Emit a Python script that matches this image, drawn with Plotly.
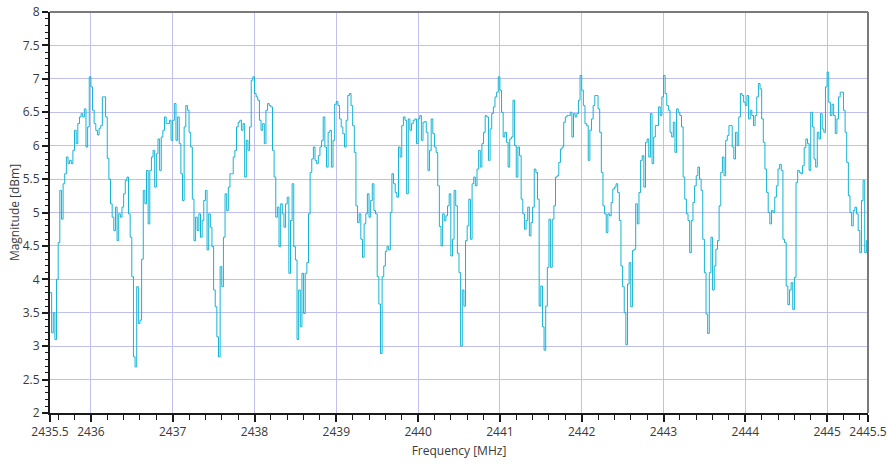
import numpy as np
import plotly.graph_objects as go

# Frequency grid (MHz), 0.02 MHz spacing from 2435.5 to 2445.5
freq_start = 2435.5
freq_step = 0.02

magnitude = [
    3.8, 3.2, 3.5, 3.1, 4.0, 4.55, 5.33, 4.9, 5.43, 5.58,
    5.83, 5.73, 5.78, 5.73, 5.93, 6.23, 6.03, 6.33, 6.43, 6.48,
    6.43, 6.55, 5.98, 6.28, 7.03, 6.88, 6.53, 6.33, 6.23, 6.16,
    6.26, 6.30, 6.73, 6.73, 6.43, 5.81, 5.5, 5.13, 4.93, 4.73,
    5.08, 4.58, 4.98, 4.93, 5.08, 5.28, 5.48, 5.53, 4.98, 4.63,
    4.04, 2.84, 2.69, 3.89, 3.34, 3.39, 4.3, 5.33, 5.13, 5.63,
    4.83, 5.63, 5.83, 5.93, 5.38, 5.88, 6.1, 5.63, 6.13, 6.23,
    6.43, 6.33, 6.33, 6.38, 6.08, 6.38, 6.63, 6.08, 6.43, 6.03,
    5.58, 5.18, 6.28, 6.6, 6.53, 6.2, 5.98, 5.2, 4.58, 4.93,
    4.73, 4.98, 4.63, 4.88, 5.18, 5.33, 4.44, 4.98, 4.78, 4.49,
    3.84, 3.59, 3.14, 2.84, 4.19, 3.89, 4.63, 5.28, 5.03, 5.38,
    5.58, 5.58, 5.83, 5.93, 6.28, 6.35, 6.38, 6.23, 6.33, 5.53,
    6.08, 5.93, 6.28, 6.98, 7.03, 6.78, 6.73, 6.68, 6.38, 6.23,
    6.33, 6.03, 6.53, 6.63, 6.6, 6.58, 5.93, 5.53, 4.93, 5.08,
    4.49, 5.13, 4.98, 4.78, 5.13, 5.23, 4.09, 4.88, 5.43, 4.49,
    4.29, 3.1, 3.84, 3.29, 4.09, 3.49, 4.09, 4.25, 4.98, 5.6,
    5.8, 5.98, 5.78, 5.73, 5.85, 5.98, 6.08, 6.43, 5.98, 5.68,
    6.2, 6.23, 5.68, 6.08, 6.62, 6.66, 6.6, 6.4, 6.28, 6.18,
    5.98, 6.38, 6.75, 6.78, 6.6, 6.3, 5.9, 5.1, 4.85, 4.98,
    4.6, 4.33, 4.83, 4.98, 5.28, 4.93, 5.18, 5.43, 5.03, 4.98,
    4.04, 3.63, 2.89, 4.04, 4.2, 4.42, 4.49, 4.44, 5.0, 5.58,
    5.43, 5.3, 5.23, 5.98, 5.83, 6.3, 6.43, 6.38, 5.28, 6.4,
    6.23, 6.33, 6.38, 6.4, 6.03, 6.4, 6.45, 6.08, 6.35, 6.36,
    6.2, 5.63, 5.93, 6.4, 6.18, 5.98, 5.9, 5.4, 4.79, 4.5,
    4.98, 4.88, 4.95, 5.1, 5.28, 4.35, 4.6, 5.33, 5.1, 4.39,
    4.1, 3.0, 3.84, 3.6, 4.58, 4.8, 5.2, 4.6, 5.43, 5.53,
    5.4, 5.65, 5.93, 5.68, 6.03, 6.2, 6.45, 6.43, 5.78, 6.25,
    6.48, 6.58, 6.73, 6.8, 7.03, 6.83, 6.5, 6.13, 6.2, 6.05,
    5.68, 6.1, 6.13, 6.68, 6.0, 5.53, 5.98, 5.85, 5.2, 4.98,
    4.75, 4.88, 5.08, 4.65, 4.85, 5.08, 5.65, 5.6, 5.2, 3.6,
    3.9, 3.29, 2.94, 3.6, 4.18, 4.9, 4.18, 4.9, 5.1, 5.53,
    5.55, 5.75, 5.95, 5.98, 6.35, 6.43, 6.45, 6.45, 6.5, 6.13,
    6.48, 6.43, 6.48, 6.68, 7.05, 6.83, 6.6, 6.33, 6.3, 5.78,
    6.23, 6.4, 6.6, 6.75, 6.75, 6.55, 6.2, 5.6, 5.1, 4.98,
    4.7, 4.98, 4.95, 5.15, 5.35, 5.38, 5.43, 5.3, 4.88, 4.2,
    3.89, 3.5, 3.02, 3.93, 4.25, 3.59, 4.43, 4.45, 5.13, 4.83,
    5.3, 5.78, 5.85, 5.38, 6.05, 6.1, 5.83, 6.48, 5.73, 6.13,
    6.3, 6.3, 6.58, 6.45, 6.73, 7.05, 6.78, 6.6, 6.53, 6.2,
    6.13, 6.35, 5.9, 6.55, 6.5, 6.45, 6.28, 5.53, 5.2, 4.98,
    4.88, 4.4, 4.88, 5.15, 5.4, 5.55, 5.68, 5.5, 5.33, 4.6,
    4.1, 3.48, 3.19, 4.1, 4.63, 3.84, 4.2, 4.45, 4.58, 5.1,
    5.6, 5.83, 5.55, 6.08, 6.15, 6.3, 6.3, 5.98, 5.8, 6.2,
    6.0, 6.43, 6.78, 6.75, 6.65, 6.6, 6.75, 6.4, 6.53, 6.45,
    6.3, 6.45, 6.73, 6.93, 6.85, 6.4, 6.05, 5.65, 5.3, 5.0,
    4.83, 5.03, 5.0, 5.23, 5.4, 5.65, 5.72, 5.63, 4.6, 4.55,
    3.9, 3.62, 3.84, 3.95, 3.55, 4.03, 5.45, 5.63, 5.6, 5.58,
    5.7, 5.97, 6.1, 6.03, 5.63, 6.5, 6.28, 5.8, 5.68, 6.2,
    6.1, 6.48, 6.25, 6.2, 6.88, 7.1, 6.65, 6.45, 6.62, 6.45,
    6.18, 6.4, 6.73, 6.8, 6.8, 6.53, 6.2, 5.75, 5.25, 5.0,
    4.8, 5.03, 5.08, 4.98, 4.73, 4.4, 5.18, 5.48, 4.4, 4.58,
    4.83,
]

frequency = [round(freq_start + freq_step * i, 3) for i in range(len(magnitude))]

x_tick_vals = [2435.5, 2436, 2437, 2438, 2439, 2440, 2441, 2442, 2443, 2444, 2445, 2445.5]
x_tick_text = ["2435.5", "2436", "2437", "2438", "2439", "2440", "2441", "2442", "2443", "2444", "2445", "2445.5"]
y_tick_vals = [2, 2.5, 3, 3.5, 4, 4.5, 5, 5.5, 6, 6.5, 7, 7.5, 8]
y_tick_text = ["2", "2.5", "3", "3.5", "4", "4.5", "5", "5.5", "6", "6.5", "7", "7.5", "8"]

fig = go.Figure()
fig.add_trace(go.Scatter(
    x=frequency, y=magnitude, mode="lines",
    line=dict(color="#14b4d4", width=1, shape="hv"),
    showlegend=False, hoverinfo="x+y",
))

grid_color = "#c0c0f0"
font_family = "Open Sans, Noto Sans, sans-serif"
text_color = "#3a3a3a"

fig.update_layout(
    width=890, height=466,
    margin=dict(l=50, r=22, t=12, b=53),
    paper_bgcolor="white", plot_bgcolor="white",
    font=dict(family=font_family, size=12, color=text_color),
    xaxis=dict(
        range=[2435.5, 2445.5], tickmode="array",
        tickvals=x_tick_vals, ticktext=x_tick_text,
        automargin=False,
        showgrid=True, gridcolor=grid_color, gridwidth=1,
        zeroline=False,
        showline=True, linecolor="#1a1a1a", linewidth=2,
        ticks="outside", ticklen=7, tickwidth=1.5, tickcolor="#1a1a1a",
        minor=dict(dtick=0.2, tick0=2436, ticks="outside", ticklen=5,
                   tickcolor="#1a1a1a", tickwidth=1, showgrid=False),
        title=dict(text="Frequency [MHz]", font=dict(size=12, color=text_color), standoff=7),
        tickfont=dict(size=12, color=text_color),
    ),
    yaxis=dict(
        range=[2, 8], tickmode="array",
        tickvals=y_tick_vals, ticktext=y_tick_text,
        automargin=False,
        showgrid=True, gridcolor=grid_color, gridwidth=1,
        zeroline=False,
        showline=True, linecolor="#1a1a1a", linewidth=2,
        ticks="outside", ticklen=6, tickwidth=1.5, tickcolor="#1a1a1a",
        minor=dict(dtick=0.1, tick0=2, ticks="outside", ticklen=3,
                   tickcolor="#1a1a1a", tickwidth=1, showgrid=False),
        title=dict(text="Magnitude [dBm]", font=dict(size=12, color=text_color), standoff=0),
        tickfont=dict(size=12, color=text_color),
    ),
    shapes=[
        dict(type="line", xref="paper", yref="paper", x0=0, x1=1, y0=1, y1=1,
             line=dict(color="#7a7a7a", width=2)),
        dict(type="line", xref="paper", yref="paper", x0=1, x1=1, y0=0, y1=1,
             line=dict(color="#7a7a7a", width=2)),
    ],
)

fig.write_html(
    "out.html",
    config={"displayModeBar": False},
    post_script="document.body.style.margin='0';document.body.style.padding='0';",
)
